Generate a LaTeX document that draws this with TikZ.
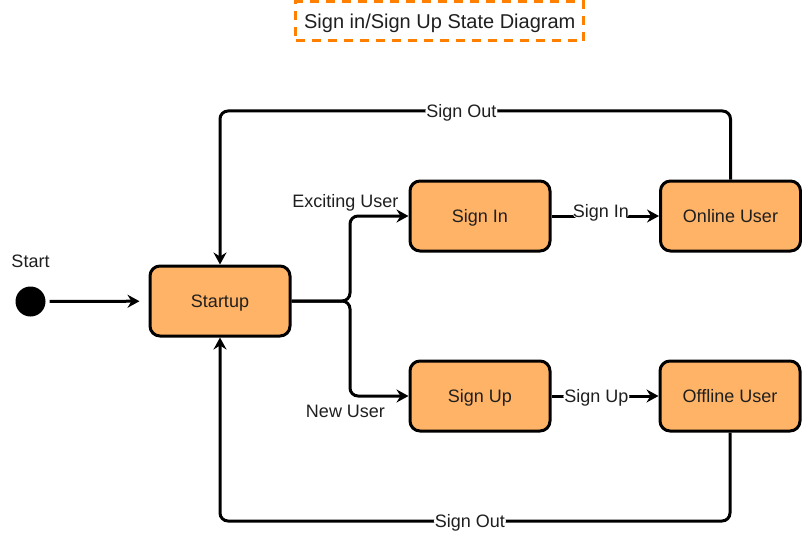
\documentclass[tikz,border=0pt]{standalone}
\usepackage{fontspec}
\setmainfont{Liberation Sans}
\usetikzlibrary{arrows.meta}
\definecolor{boxfill}{HTML}{FFB366}
\definecolor{titleorange}{HTML}{FF8000}
\definecolor{txt}{HTML}{1F1F1F}
\tikzset{
  statebox/.style={draw=black, line width=3pt, fill=boxfill, rounded corners=10pt,
    minimum width=140pt, minimum height=70pt, inner sep=0pt,
    text height=12.9pt, text depth=0pt, text=txt, font=\fontsize{18}{20}\selectfont},
  conn/.style={draw=black, line width=3pt, rounded corners=8pt,
    -{Stealth[length=12pt, width=13pt, inset=4pt]}},
  plain/.style={draw=black, line width=3pt, rounded corners=8pt},
  lbl/.style={fill=white, inner sep=1pt, text=txt, text height=12.9pt, text depth=0pt,
    font=\fontsize{18}{20}\selectfont},
  freelbl/.style={inner sep=0pt, text=txt, text height=12.9pt, text depth=0pt,
    font=\fontsize{18}{20}\selectfont},
}
\begin{document}
\begin{tikzpicture}[x=1pt, y=-1pt]
\useasboundingbox (0,0) rectangle (802,532);
% title
\node[draw=titleorange, line width=3pt, dash pattern=on 9pt off 7pt,
  minimum width=288pt, minimum height=39pt, inner sep=0pt, text=txt,
  text height=14.3pt, text depth=0pt, font=\fontsize{20}{22}\selectfont]
  (title) at (439.75,21.5) {Sign in/Sign Up State Diagram};
% start
\node[circle, fill=black, minimum size=30pt, inner sep=0pt] (start) at (30.5,301.5) {};
\node[freelbl] (startlbl) at (30.5,261) {Start};
% states
\node[statebox] (startup) at (220,301) {Startup};
\node[statebox] (signin) at (480,216) {Sign In};
\node[statebox] (signup) at (480,396) {Sign Up};
\node[statebox] (online) at (730.5,216) {Online User};
\node[statebox] (offline) at (730,396) {Offline User};
% free labels
\node[freelbl] (exlbl) at (345.5,201) {Exciting User};
\node[freelbl] (newlbl) at (345.5,411) {New User};
% connectors
\draw[conn, shorten <=4pt, shorten >=9pt] (start) -- (startup);
\draw[conn] (startup.east) -- (350,301) |- (signin.west);
\draw[conn] (startup.east) -- (350,301) |- (signup.west);
\draw[conn] (signin.east) -- node[lbl, pos=0.46, yshift=4.5pt] {Sign In} (online.west);
\draw[conn] (signup.east) -- node[lbl, pos=0.42, yshift=-0.5pt] {Sign Up} (offline.west);
\draw[conn] (online.north) -- (online.north |- 0,111)
  -- node[lbl, pos=0.527] {Sign Out} (startup.north |- 0,111) -- (startup.north);
\draw[conn] (offline.south) -- (offline.south |- 0,521)
  -- node[lbl, pos=0.51] {Sign Out} (startup.south |- 0,521) -- (startup.south);
\end{tikzpicture}
\end{document}
